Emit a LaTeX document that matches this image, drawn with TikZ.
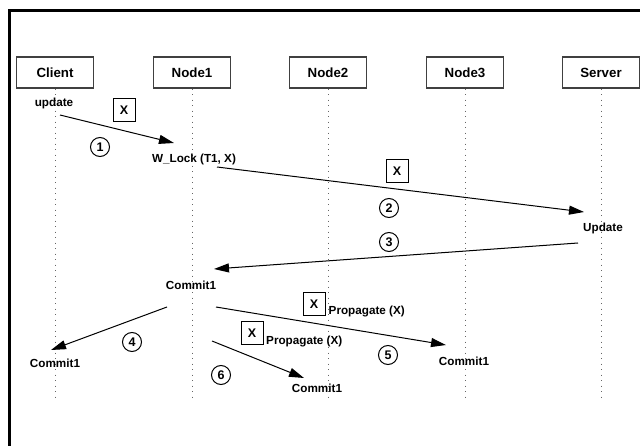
\documentclass[tikz,border=0pt]{standalone}
\usepackage{fontspec}
\setmainfont{Liberation Sans}
\usetikzlibrary{arrows.meta}

\tikzset{
  actor/.style={draw=black!75, line width=1.1pt, minimum width=77pt, minimum height=31pt,
                inner sep=0pt, font=\fontsize{13.3}{15}\selectfont\bfseries},
  lifeline/.style={draw=black!60, line width=0.9pt, dash pattern=on 0.9pt off 4.6pt},
  msg/.style={draw=black, line width=1pt, -{Triangle[length=15pt,width=9pt]}},
  xbox/.style={draw=black, line width=1pt, minimum width=22pt, minimum height=23pt,
               inner sep=0pt, font=\fontsize{12.5}{14}\selectfont\bfseries},
  numcirc/.style={draw=black, line width=1pt, circle, minimum size=19pt, inner sep=0pt,
                  font=\fontsize{12.5}{14}\selectfont\bfseries},
  lbl/.style={inner sep=0pt, font=\fontsize{11.7}{13}\selectfont\bfseries},
  frameline/.style={draw=black, line width=3pt}
}

\begin{document}
\begin{tikzpicture}[x=1pt,y=-1pt]
  \useasboundingbox (0,0) rectangle (640,446);

  % outer frame (open on the right and at the bottom)
  \coordinate (fbl) at (9.5,446);
  \coordinate (ftl) at (9.5,11);
  \coordinate (ftr) at (640,11);
  \draw[frameline] (fbl) -- (ftl) -- (ftr);

  % participants
  \node[actor] (client) at (55,72.5)  {Client};
  \node[actor] (nodeA)  at (192,72.5) {Node1};
  \node[actor] (nodeB)  at (328,72.5) {Node2};
  \node[actor] (nodeC)  at (465,72.5) {Node3};
  \node[actor] (server) at (601,72.5) {Server};

  % lifelines
  \foreach \p/\x in {client/55, nodeA/192, nodeB/328, nodeC/465, server/601}{
    \coordinate (\p end) at (\x,397);
    \draw[lifeline] (\p.south) -- (\p end);
  }

  % message labels
  \node[lbl] (lupdate) at (54,103)  {update};
  \node[lbl] (lwlock)  at (194,159) {W\_Lock (T1, X)};
  \node[lbl] (lsrvupd) at (603,228) {Update};
  \node[lbl] (lcommit) at (191,285) {Commit1};
  \node[lbl] (lcomC)   at (55,363)  {Commit1};
  \node[lbl] (lcomD)   at (464,361) {Commit1};
  \node[lbl] (lcomB)   at (317,388) {Commit1};
  \node[lbl, anchor=west] (lpropA) at (328.5,312) {Propagate (X)};
  \node[lbl, anchor=west] (lpropB) at (266,342) {Propagate (X)};

  % data item boxes
  \node[xbox] (xa) at (124,110.5) {X};
  \node[xbox] (xb) at (397,171)   {X};
  \node[xbox] (xc) at (314,304)   {X};
  \node[xbox] (xd) at (252,333.5) {X};

  % step numbers
  \node[numcirc] (s1) at (100,147) {1};
  \node[numcirc] (s2) at (389,208) {2};
  \node[numcirc] (s3) at (389,242) {3};
  \node[numcirc] (s4) at (132,342) {4};
  \node[numcirc] (s5) at (388,355) {5};
  \node[numcirc] (s6) at (221,375) {6};

  % message end points
  \coordinate (m1a) at (60,115);   \coordinate (m1b) at (174,143);
  \coordinate (m2a) at (217,167);  \coordinate (m2b) at (584,212);
  \coordinate (m3a) at (578,243);  \coordinate (m3b) at (214,269);
  \coordinate (m4a) at (167,307);  \coordinate (m4b) at (51,350);
  \coordinate (m5a) at (216,307);  \coordinate (m5b) at (446,345);
  \coordinate (m6a) at (212,341);  \coordinate (m6b) at (304,378);

  % messages
  \draw[msg] (m1a) -- (m1b);
  \draw[msg] (m2a) -- (m2b);
  \draw[msg] (m3a) -- (m3b);
  \draw[msg] (m4a) -- (m4b);
  \draw[msg] (m5a) -- (m5b);
  \draw[msg] (m6a) -- (m6b);
\end{tikzpicture}
\end{document}
